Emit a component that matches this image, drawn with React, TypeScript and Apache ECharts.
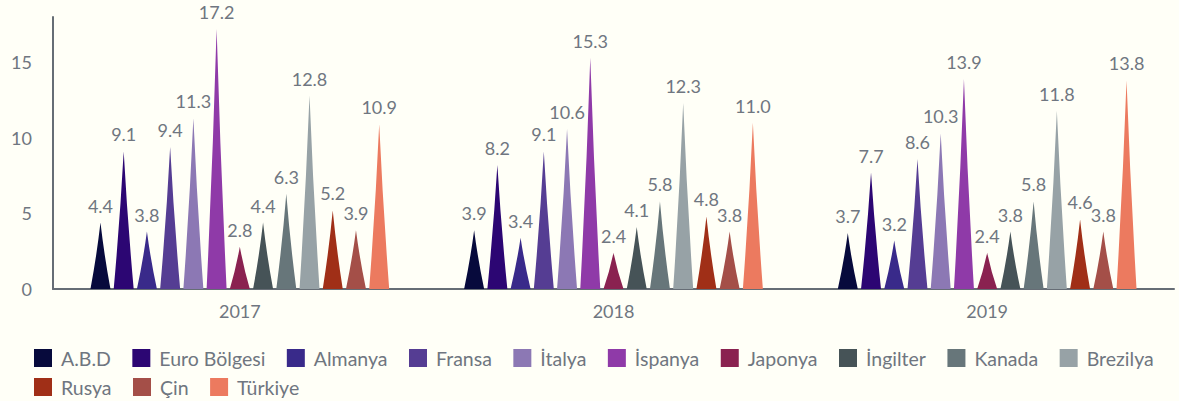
import React, { useEffect, useRef } from "react";
import * as echarts from "echarts";

const years = ["2017", "2018", "2019"];
const countries = [
  "A.B.D", "Euro Bölgesi", "Almanya", "Fransa", "İtalya", "İspanya", "Japonya",
  "İngilter", "Kanada", "Brezilya", "Rusya", "Çin", "Türkiye",
];
const colors = [
  "#070a3c", "#2c0673", "#392a8a", "#553d93", "#8c78b4", "#8f3aa8", "#8a2250",
  "#465357", "#67767a", "#97a2a6", "#a02f17", "#a44f48", "#ec7a5f",
];
const values: number[][] = [
  [4.4, 3.9, 3.7],
  [9.1, 8.2, 7.7],
  [3.8, 3.4, 3.2],
  [9.4, 9.1, 8.6],
  [11.3, 10.6, 10.3],
  [17.2, 15.3, 13.9],
  [2.8, 2.4, 2.4],
  [4.4, 4.1, 3.8],
  [6.3, 5.8, 5.8],
  [12.8, 12.3, 11.8],
  [5.2, 4.8, 4.6],
  [3.9, 3.8, 3.8],
  [10.9, 11.0, 13.8],
];

const spike = "path://M0,10 L10,10 Q6.9,5 5,0 Q3.1,5 0,10 z";
const textColor = "#6f7680";
const font = "Lato, 'Noto Sans', sans-serif";

const legendBase = {
  left: 29,
  itemWidth: 18,
  itemHeight: 18,
  itemGap: 21.5,
  icon: "rect",
  textStyle: { fontSize: 19.5, color: textColor, fontFamily: font, padding: [0, 0, 0, 4] },
};

export default function App() {
  const ref = useRef<HTMLDivElement>(null);
  useEffect(() => {
    if (!ref.current) return;
    const chart = echarts.init(ref.current, null, { renderer: "svg" });
    chart.setOption({
      animation: false,
      backgroundColor: "#fffff7",
      textStyle: { fontFamily: font },
      grid: { left: 53, right: 5, top: 17, bottom: 112 },
      legend: [
        { ...legendBase, top: 343, data: countries.slice(0, 10) },
        { ...legendBase, top: 372, data: countries.slice(10) },
      ],
      xAxis: {
        type: "category",
        data: years,
        axisLine: { lineStyle: { color: "#666d75", width: 2 } },
        axisTick: { show: false },
        axisLabel: { fontSize: 18, color: textColor, margin: 13, fontFamily: font },
      },
      yAxis: {
        type: "value",
        min: 0,
        max: 18,
        interval: 5,
        axisLine: { show: true, lineStyle: { color: "#666d75", width: 2 } },
        axisTick: { show: false },
        splitLine: { show: false },
        axisLabel: { fontSize: 18, color: textColor, margin: 21, showMaxLabel: false, fontFamily: font },
      },
      series: countries.map((name, i) => ({
        name,
        type: "pictorialBar",
        symbol: spike,
        barGap: "15%",
        barCategoryGap: "20%",
        itemStyle: { color: colors[i] },
        label: {
          show: true,
          position: "top",
          distance: 8,
          fontSize: 18,
          color: textColor,
          fontFamily: font,
          formatter: (p: any) => Number(p.value).toFixed(1),
        },
        data: values[i],
      })),
    });
    return () => chart.dispose();
  }, []);
  return (
    <div
      ref={ref}
      style={{ position: "absolute", left: 0, top: 0, width: 1179, height: 401 }}
    />
  );
}
